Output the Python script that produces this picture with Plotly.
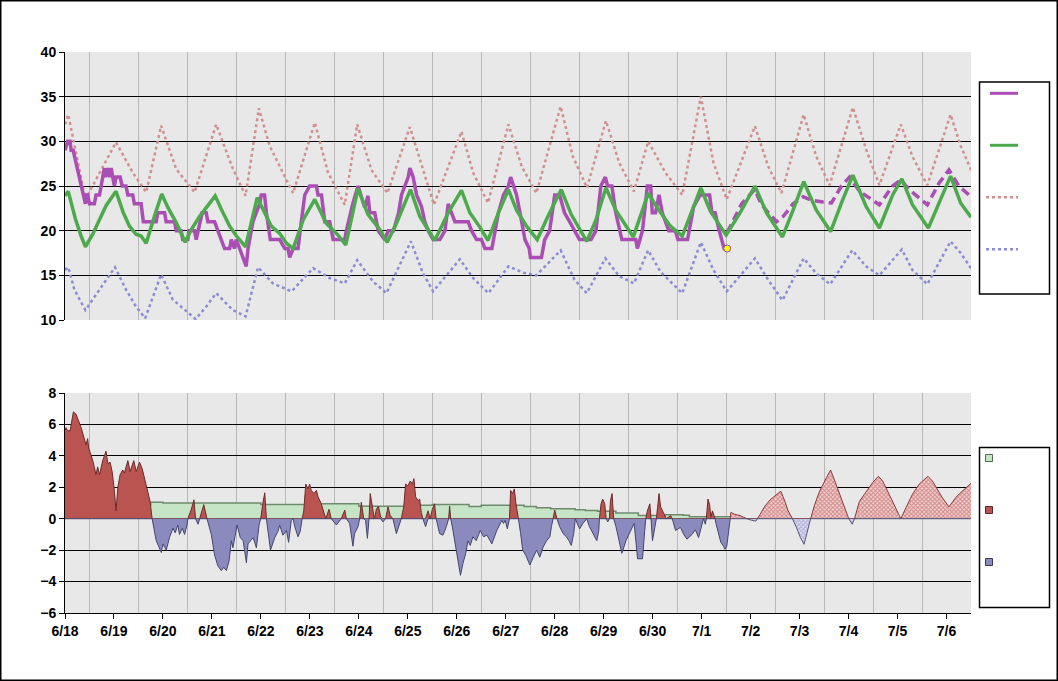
import plotly.graph_objects as go
from plotly.subplots import make_subplots

# ---------------- data (x in hours from 6/18 00:00) ----------------
day_labels = ["6/18", "6/19", "6/20", "6/21", "6/22", "6/23", "6/24", "6/25", "6/26",
              "6/27", "6/28", "6/29", "6/30", "7/1", "7/2", "7/3", "7/4", "7/5", "7/6"]

obs_t = [0, 1.3, 2.5, 3, 4, 7, 8.7, 10, 10.6, 11.1, 12, 14.4, 15.2, 16.9, 17.7, 19.3, 19.8, 20.9, 21.8, 22.6,
         24.2, 25, 27, 28, 29.9, 30.8, 33.2, 34, 37.3, 38.4, 44.7, 45.5, 48.8, 49.6, 53.7, 54.5, 56.9, 57.7,
         60.2, 60.7, 63.5, 64.3, 67.2, 69.2, 70, 73.3, 74.9, 76.6, 78.2, 80.7, 81.5, 83.1, 83.9, 85.6, 87.2,
         88.8, 89.7, 92.1, 93.7, 95.4, 96.2, 97.8, 98.7, 100.6, 105.2, 107.7, 109.3, 110.1, 111.8, 114.2,
         115.8, 117.5, 119.9, 123.2, 124, 125.7, 127.3, 129.7, 131.4, 137.1, 137.9, 141, 143.6, 146.9, 148.5,
         149.4, 151.8, 153.5, 156.7, 158.4, 161, 163.5, 164.9, 168.2, 169, 170.6, 172.3, 174.7, 176.3, 178,
         180.4, 183.7, 186.2, 187.8, 189.4, 191.1, 197.6, 199.2, 201.7, 204.1, 205.8, 209.2, 210.8, 212.4,
         214.9, 217.3, 218.4, 219.7, 221.3, 223.8, 225.4, 227.5, 228.1, 233.5, 235.1, 237.5, 240, 242.4,
         244.8, 247.3, 249.7, 252.1, 257.8, 260.2, 262.6, 264.8, 265.9, 268, 269.9, 272.9, 279.7, 280.5,
         283, 285.4, 287, 287.8, 289.4, 291.1, 292.7, 294.3, 295.9, 299.1, 300.4, 305.1, 308.1, 311.3,
         315.9, 317, 318.6, 320.3, 321.9, 323, 324.5]
obs_v = [29, 30, 30, 29, 29, 26, 24.3, 23, 24, 24, 23, 23, 24, 24, 25, 27, 26, 27, 26, 27,
         25, 26, 26, 25, 25, 24, 24, 23, 23, 21, 21, 22, 22, 21, 21, 20, 20, 19,
         19, 20, 20, 19, 22, 22, 21, 21, 20, 19, 18, 18, 19, 18, 19, 18, 17,
         16, 18, 21, 22, 23, 24, 24, 22, 19, 19, 18, 18, 17, 18, 18,
         21, 24, 25, 25, 24, 24, 21, 21, 19, 19, 20, 23, 25, 22.6, 23.9,
         22, 22, 20, 19, 20, 20, 22, 24, 26, 27, 26, 24, 22.7, 21, 20,
         19, 19, 20, 23, 22, 21, 21, 20, 19, 19, 18, 18, 20, 22,
         24, 25, 26, 25, 24, 21, 19, 18, 17, 17, 19, 20, 24, 24,
         22, 21, 20, 19, 19, 20, 25, 26, 25, 25, 22, 19, 19, 18,
         20, 25, 25, 22, 22, 24, 22, 21, 20, 20, 19, 19, 22.7, 24,
         24, 22, 22, 20.3, 19, 18, 18]

last_obs_t = [324.5]
last_obs_v = [18]

fcst_t = [324.5, 331.6, 338, 341.4, 345.5, 348.7, 352, 356.8, 361.7, 365.8, 371.5, 375.6, 380.5, 384.5,
          389.4, 395.1, 399.1, 405.6, 409.6, 413.7, 418.6, 422.6, 428.3, 433.2, 438, 444]
fcst_v = [19.8, 23, 24.6, 22.9, 21.8, 21, 21.6, 23, 23.8, 23.4, 23.2, 23.1, 25, 26,
          24.4, 23.5, 22.9, 25, 25.7, 24.6, 23.6, 22.9, 25.3, 26.8, 25, 23.8]

model_t = [0, 1.6, 3.4, 5.1, 7.9, 10, 13.6, 16.9, 20.1, 25, 28.6, 31.6, 34.8, 37.3, 39.8, 43.8, 47.4, 50.4,
           54.5, 58.9, 61.8, 66, 73.6, 76.6, 80.7, 84, 88.5, 94.2, 97, 101.1, 105.2, 108.5, 111.8, 116.7,
           122.4, 128.1, 133.8, 137.6, 143.6, 148.5, 154.3, 157.9, 162.4, 169.3, 173.9, 178, 181.2, 187.8,
           194.3, 198.4, 203.3, 207.3, 212.4, 217.3, 221.3, 226.2, 231.4, 237.5, 243.2, 248.1, 252.1,
           255.7, 260.2, 265.1, 269.9, 274.8, 278.5, 283, 285.8, 291, 296.7, 302.5, 308.1, 311.6, 316.2,
           324, 330.8, 338.1, 343.8, 351.6, 356.8, 362, 368.2, 375.2, 381.2, 386.1, 392.6, 399.1, 405.6,
           410.1, 415.3, 423.1, 429.1, 434, 438.9, 444]
model_v = [23.9, 24.4, 22.8, 21.3, 19.4, 18.2, 19.6, 21.3, 22.8, 24.4, 22, 20.5, 19.6, 19.4, 18.6, 21.6, 24.1, 22.6,
           20.9, 18.7, 20.1, 21.6, 23.9, 22.4, 20.5, 19.4, 18.2, 23.7, 22.4, 20.5, 19.7, 18.6, 18, 21.2,
           23.5, 20.8, 19.5, 18.4, 24.7, 21.8, 20.1, 18.7, 20.8, 24.6, 21.6, 20.1, 18.9, 22,
           24.5, 22, 20.4, 18.9, 22, 24.6, 22.3, 20.5, 19, 22, 24.6, 21.8, 20.3,
           18.8, 21.2, 24.8, 22.3, 20.5, 19.3, 22.3, 24.2, 22.3, 20.5, 19.4, 22.7, 24.8, 22.2,
           19.5, 22, 25, 22, 19.3, 22.3, 25.5, 22.3, 19.9, 23.5, 26.2, 22.7, 20.3, 24,
           25.8, 22.9, 20.3, 23.5, 26.1, 23.1, 21.5]

hi_t = [0, 1.6, 10, 25, 33.2, 39.8, 47.1, 54.5, 63.5, 74.1, 82.3, 88.5, 95, 100.3, 107.6, 111.8, 122.4,
        128.9, 137.1, 143.2, 150.2, 158, 169, 173.9, 180.8, 194.3, 200, 207.3, 217.3, 223.8, 231, 242.9,
        248.9, 255.8, 265.1, 271.6, 278.8, 285.8, 294.2, 302.5, 311.6, 317.8, 324.3, 338.1, 344.6, 351.1,
        362, 368.2, 374.7, 386.1, 392.6, 399.1, 409.6, 415.3, 422.6, 434, 438.9, 444]
hi_v = [31.9, 33, 23.5, 29.9, 26.5, 24.3, 31.75, 26.9, 24.3, 31.9, 26.9, 23.9, 33.7, 29.5, 26.1, 24.2, 32.1,
        26.5, 22.9, 31.9, 26.8, 24.2, 31.6, 28, 22.9, 31.1, 26.5, 23.1, 31.9, 27.2, 24.2, 33.9,
        28.3, 24.8, 32.3, 27.6, 24.4, 30, 26.5, 24, 35, 27.6, 23.5, 31.7, 27.2, 24.2,
        33, 28.3, 25.1, 33.8, 29.1, 25.1, 31.9, 28.3, 25.1, 33, 29.5, 26.8]

lo_t = [0, 1.6, 4.6, 10, 16.9, 24.5, 29.9, 34.8, 39.3, 47.1, 52.8, 64, 69.2, 74.1, 82.3, 88.5, 94.6, 101.9,
        111, 121.6, 129.7, 137.1, 143.2, 151, 157.5, 169.5, 175.5, 180.4, 193.5, 200, 207.5, 217.3, 224.6,
        231, 242.9, 249.7, 255.7, 264.8, 271.6, 278.8, 285.8, 291.8, 302.5, 311.6, 317.8, 324.3, 338.1,
        344.6, 351.6, 362, 368.2, 375, 385.8, 392.6, 399.1, 410.1, 415.3, 422.6, 434, 438.9, 444]
lo_v = [15.6, 15.9, 13.4, 11.1, 13.4, 15.9, 13.4, 11.5, 10.2, 15.1, 12.3, 10.1, 11.5, 13, 11.1, 10.4, 15.9, 14.1,
        13.2, 15.8, 14.7, 14.1, 16.7, 14.3, 13, 18.8, 15.2, 13.2, 16.8, 14.7, 13, 16, 15.3,
        15, 17.8, 14.5, 13, 16.9, 14.9, 14.1, 17.8, 15.4, 13, 18.7, 15.6, 13.2, 16.9,
        14.5, 12.2, 16.9, 15.2, 14, 17.8, 16, 15, 17.9, 15.6, 14, 18.8, 17.5, 15.8]

# observed departure (bottom panel)
dep_t = [0, 0.5, 1.3, 2.5, 4.1, 5.4, 7.9, 10.3, 11.1, 11.6, 13.6, 15.2, 16.0, 16.9, 18.5, 20.1, 21.0, 22.1, 23.1,
         24.2, 25.0, 25.9, 27.0, 28.3, 29.1, 30.8, 31.9, 33.7, 34.9, 36.5, 37.8, 39.0, 40.6, 41.7, 42.7,
         44.7, 46.0, 47.2, 48.0, 49.6, 51.2, 52.9, 54.0, 55.3, 56.1, 57.5, 58.6, 59.8, 60.2, 61.9, 63.2,
         64.0, 65.2, 66.0, 68.0, 69.6, 71.7, 73.3, 74.9, 76.6, 77.8, 79.1, 80.4, 81.5, 82.3, 84.3, 85.9,
         87.3, 88.9, 89.7, 90.9, 92.2, 93.8, 95.1, 95.9, 97.1, 97.9, 98.7, 100.7, 102.8, 104.4, 105.2,
         106.8, 108.5, 109.6, 110.9, 111.8, 112.6, 114.2, 115.3, 116.2, 117.0, 118.0, 119.1, 119.9, 120.7,
         122.0, 123.2, 124.0, 125.6, 126.9, 127.8, 129.4, 130.5, 133.0, 135.4, 137.1, 137.9, 139.5, 141.1,
         141.9, 143.6, 144.4, 145.2, 146.4, 147.3, 148.2, 149.0, 149.6, 150.6, 151.6, 152.6, 153.6, 154.7,
         155.8, 157.1, 158.3, 159.4, 160.7, 162.4, 163.7, 164.8, 166.0, 166.9, 168.1, 169.2, 170.2, 171.0,
         171.8, 173.0, 173.8, 174.6, 175.4, 176.7, 177.9, 179.0, 180.0, 181.1, 181.9, 183.6, 185.2, 186.9,
         188.0, 188.5, 189.0, 189.8, 190.9, 192.6, 193.8, 195.0, 196.4, 197.5, 198.6, 199.9, 201.5, 203.5,
         205.1, 206.8, 209.2, 211.6, 214.1, 214.9, 215.7, 216.8, 217.8, 218.4, 219.4, 220.2, 221.0, 222.2,
         223.3, 224.3, 225.9, 227.8, 229.5, 231.1, 232.7, 234.3, 236.0, 237.6, 238.4, 239.2, 240.0, 241.1,
         242.4, 244.1, 245.7, 247.0, 248.1, 249.3, 250.1, 252.2, 253.8, 255.7, 257.0, 259.5, 260.6, 261.6,
         261.9, 262.7, 263.5, 264.5, 265.2, 266.0, 266.8, 267.3, 268.1, 268.9, 270.0, 271.6, 272.9, 274.9,
         277.3, 278.9, 280.6, 283.0, 284.1, 284.6, 285.4, 286.6, 287.2, 287.9, 289.0, 289.8, 290.6, 291.1,
         291.9, 292.7, 293.5, 294.7, 296.8, 297.6, 299.2, 301.6, 303.2, 304.8, 307.3, 308.9, 310.5, 312.1,
         312.9, 313.8, 314.3, 315.1, 315.9, 316.5, 317.3, 318.2, 318.6, 319.1, 320.3, 321.4, 322.7, 323.5,
         324.3, 325.1, 326.0]
dep_v = [5.6, 5.8, 5.6, 5.6, 6.8, 6.65, 5.8, 4.7, 5.1, 4.5, 3.7, 2.8, 3.3, 2.8, 3.7, 4.3, 3.5, 3.6, 3.0,
         1.8, 0.5, 2.0, 2.8, 3.1, 2.9, 3.7, 3.0, 3.7, 3.0, 3.6, 3.2, 2.6, 1.8, 1.1, 0,
         -1.4, -1.85, -2.15, -1.6, -2.0, -1.2, -0.6, -0.9, -0.4, -1.0, -0.6, -1.0, -0.4, 0, 0.6, 1.2,
         0, -0.35, 0, 0.9, 0, -1.0, -2.3, -3.0, -3.3, -3.1, -3.3, -2.7, -1.4, -1.85, -0.4, -1.2,
         -1.4, -2.8, -1.6, -1.4, -1.2, -1.85, -0.4, 0, 1.1, 1.65, 0, -2.0, -1.2, -0.8, -0.4,
         -1.05, -0.75, -1.5, -0.1, 0, -0.5, -1.15, -0.8, 0, 0.5, 2.2, 1.9, 2.2, 1.8,
         1.6, 1.8, 1.4, 0.95, 0.3, 0, 0.6, 0, -0.4, 0, 0.55, 0, -0.3, -1.75,
         -0.95, -0.5, 0, 1.05, 0, -0.1, -1.25, 0, 1.6, 0.75, 0, 0.6, 0.8, 0.1,
         -0.2, 0, 0.75, 0.2, 0, -0.95, -0.4, 0, 0.75, 2.2, 2.1, 2.4, 2.2, 2.55,
         1.4, 1.15, 1.25, 0.4, 0, -0.5, 0.5, 0, 0.6, 0.95, 0, -0.95, -1.05, -0.5,
         0, 0.8, 0, -0.5, -1.4, -2.65, -3.6, -2.85, -2.2, -1.4, -1.7, -1.15, -1.4, -0.75,
         -1.15, -1.05, -1.6, -0.75, -0.1, -0.3, -0.1, -0.65, 0, 1.8, 1.6, 1.9, 0.95, 0,
         -0.95, -2.0, -2.35, -2.95, -2.45, -2.0, -2.45, -1.8, -1.4, -1.15, -0.5, 0, 0.55, 0,
         -0.5, -0.95, -1.15, -1.4, -1.7, -0.95, 0, -0.65, -0.3, 0, -0.5, -1.15, -1.4, -0.75,
         0, 0.95, 1.25, 0.95, 0, -0.2, 0, 1.15, 1.6, 0, -0.5, -1.4, -2.2, -1.4,
         -0.75, -0.3, -2.55, -2.55, -0.75, 0, 0.5, 0.95, 0, -1.4, -0.6, 0, 0.95, 1.6,
         0.75, 0.55, 0.3, 0, 0.2, 0, -0.75, -0.55, -1.0, -1.3, -1.0, -0.7, -1.2, -0.35,
         0, -0.35, 0, 1.25, 0.9, 0.1, 0.5, 0.15, 0, -0.35, -1.0, -1.5, -1.75, -1.95,
         -1.75, -1.0, 0]

# forecast departure (bottom panel, hatched)
fdep_t = [326.0, 326.3, 328.4, 330.8, 334.1, 336.5, 338.6, 339.3, 340.6, 343.0, 345.5, 348.7, 350.8, 352.8,
          354.4, 356.5, 358.5, 360.4, 362.2, 364.1, 365.4, 367.4, 369.8, 373.1, 375.2, 376.7, 379.6, 382.0,
          384.1, 385.8, 386.9, 389.3, 392.6, 395.8, 398.6, 400.7, 403.9, 407.2, 409.6, 412.1, 415.3, 418.6,
          422.9, 425.1, 429.9, 433.2, 436.5, 439.7, 444.0]
fdep_v = [0, 0.4, 0.27, 0.2, 0, -0.1, -0.15, 0, 0.27, 0.8, 1.2, 1.55, 1.75, 1.1,
          0.5, 0, -0.57, -1.2, -1.63, -0.57, 0, 0.9, 1.75, 2.6, 3.1, 2.6, 1.55, 0.7,
          0, -0.35, 0, 1.1, 1.75, 2.3, 2.7, 2.4, 1.55, 0.6, 0, 0.7, 1.55, 2.2,
          2.7, 2.4, 1.35, 0.75, 1.35, 1.75, 2.25]

# mean-error band (bottom panel, green)
band_t = [0, 20, 42, 48, 96, 108, 118, 144, 168, 180, 198, 204, 225, 231, 238, 250, 255, 261, 270, 281, 294,
          303, 306, 326]
band_v = [0.72, 0.85, 1.05, 1.0, 0.9, 0.9, 0.95, 0.8, 0.85, 0.9, 0.78, 0.85, 0.78, 0.7, 0.63, 0.57, 0.53,
          0.47, 0.36, 0.21, 0.25, 0.22, 0.13, 0.12]

# ---------------- figure ----------------
W, H = 1058, 681
L, R, T, B = 65, 971, 52, 613          # plot-area edges in pixels
PURPLE = "#AA4DB4"
GREEN = "#4CAA4C"
HI = "#D09090"
LO = "#8C8CD6"
RED = "#BA5451"
BLUE = "#8A8ABF"
BAND = "#C6E5C6"

fig = make_subplots(rows=2, cols=1)

# top panel
fig.add_trace(go.Scatter(x=hi_t, y=hi_v, mode="lines", line=dict(color=HI, width=2.5, dash="dot")), 1, 1)
fig.add_trace(go.Scatter(x=lo_t, y=lo_v, mode="lines", line=dict(color=LO, width=2.5, dash="dot")), 1, 1)
fig.add_trace(go.Scatter(x=obs_t, y=obs_v, mode="lines", line=dict(color=PURPLE, width=3.5)), 1, 1)
fig.add_trace(go.Scatter(x=fcst_t, y=fcst_v, mode="lines", line=dict(color=PURPLE, width=3.5, dash="9px,5px")), 1, 1)
fig.add_trace(go.Scatter(x=model_t, y=model_v, mode="lines", line=dict(color=GREEN, width=3.5)), 1, 1)
fig.add_trace(go.Scatter(x=last_obs_t, y=last_obs_v, mode="markers",
                         marker=dict(color="#FFFF00", size=7, line=dict(color="#9A4A9A", width=1))), 1, 1)

# bottom panel
fig.add_trace(go.Scatter(x=band_t, y=band_v, mode="lines", fill="tozeroy", fillcolor=BAND,
                         line=dict(color="#6E8A6E", width=1.5, shape="hv")), 2, 1)
fig.add_trace(go.Scatter(x=dep_t, y=[max(v, 0) for v in dep_v], mode="lines", fill="tozeroy",
                         fillcolor=RED, line=dict(color="#6E2A2A", width=1)), 2, 1)
fig.add_trace(go.Scatter(x=dep_t, y=[min(v, 0) for v in dep_v], mode="lines", fill="tozeroy",
                         fillcolor=BLUE, line=dict(color="#45456E", width=1)), 2, 1)
fig.add_trace(go.Scatter(x=fdep_t, y=[max(v, 0) for v in fdep_v], mode="lines", fill="tozeroy",
                         fillcolor="#EBC4C4",
                         fillpattern=dict(shape="x", fgcolor="#B84444", bgcolor="#F2D6D6", size=3, solidity=0.6),
                         line=dict(color="#8A3A3A", width=1)), 2, 1)
fig.add_trace(go.Scatter(x=fdep_t, y=[min(v, 0) for v in fdep_v], mode="lines", fill="tozeroy",
                         fillcolor="#D6D6EE",
                         fillpattern=dict(shape="x", fgcolor="#7E7EC0", bgcolor="#E4E4F4", size=3, solidity=0.6),
                         line=dict(color="#55557E", width=1)), 2, 1)

FONT = dict(family="Liberation Sans, Arial, sans-serif", size=14, color="black", weight="bold")
x_major = [24 * i for i in range(len(day_labels))]
x_minor = [24 * i + 12 for i in range(len(day_labels))]

common_x = dict(range=[0, 444], domain=[0, 1], showgrid=False, zeroline=False, automargin=False,
                minor=dict(tickmode="array", tickvals=x_minor, showgrid=True, gridcolor="#B8B8B8", gridwidth=1, ticks=""),
                tickfont=FONT)
common_y = dict(showgrid=True, gridcolor="black", gridwidth=1, zeroline=False, ticks="outside", ticklen=5,
                tickcolor="black", showline=True, linecolor="black", tickfont=FONT, automargin=False)
PH = B - T
fig.update_layout(
    xaxis=dict(**common_x, showticklabels=False, ticks="", tickvals=x_major, showline=False),
    xaxis2=dict(**common_x, tickmode="array", tickvals=x_major, ticktext=day_labels, ticks="outside",
                ticklen=5, tickcolor="black", showline=True, linecolor="black", linewidth=1),
    yaxis=dict(**common_y, range=[10, 40], domain=[(B - 320) / PH, 1], tickvals=[10, 15, 20, 25, 30, 35, 40]),
    yaxis2=dict(**common_y, range=[-6, 8], domain=[0, (B - 393) / PH], tickvals=[-6, -4, -2, 0, 2, 4, 6, 8]),
    width=W, height=H, margin=dict(l=L, r=W - R, t=T, b=H - B, autoexpand=False),
    paper_bgcolor="white", plot_bgcolor="#E8E8E8", showlegend=False,
)

# frame and legend boxes (decorations), positions given in pixels and mapped to paper
def px(x):
    return (x - L) / (R - L)

def py(y):
    return (B - y) / (B - T)

shapes = [
    dict(type="rect", xref="paper", yref="paper", x0=px(0.75), x1=px(1057.25), y0=py(680.25), y1=py(0.75),
         line=dict(color="black", width=1.5)),
    dict(type="rect", xref="paper", yref="paper", x0=px(979.5), x1=px(1049.5), y0=py(294), y1=py(82),
         line=dict(color="black", width=1.5), fillcolor="white"),
    dict(type="rect", xref="paper", yref="paper", x0=px(979.5), x1=px(1049.5), y0=py(607.5), y1=py(447.5),
         line=dict(color="black", width=1.5), fillcolor="white"),
    dict(type="line", xref="paper", yref="paper", x0=px(990), x1=px(1018), y0=py(93.3), y1=py(93.3),
         line=dict(color=PURPLE, width=3)),
    dict(type="line", xref="paper", yref="paper", x0=px(990), x1=px(1018), y0=py(145.3), y1=py(145.3),
         line=dict(color=GREEN, width=3)),
    dict(type="line", xref="paper", yref="paper", x0=px(986), x1=px(1018), y0=py(197.3), y1=py(197.3),
         line=dict(color=HI, width=2.5, dash="dot")),
    dict(type="line", xref="paper", yref="paper", x0=px(986), x1=px(1018), y0=py(249.3), y1=py(249.3),
         line=dict(color=LO, width=2.5, dash="dot")),
    dict(type="rect", xref="paper", yref="paper", x0=px(985.5), x1=px(992.5), y0=py(461.5), y1=py(454.5),
         line=dict(color="#556655", width=1), fillcolor=BAND),
    dict(type="rect", xref="paper", yref="paper", x0=px(985.5), x1=px(992.5), y0=py(513.5), y1=py(506.5),
         line=dict(color="#5A2A2A", width=1), fillcolor=RED),
    dict(type="rect", xref="paper", yref="paper", x0=px(985.5), x1=px(992.5), y0=py(565.5), y1=py(558.5),
         line=dict(color="#3A3A5A", width=1), fillcolor=BLUE),
]
fig.update_layout(shapes=shapes)

fig.write_html("out.html", config={"displayModeBar": False},
               post_script="document.body.style.margin='0px';document.body.style.overflow='hidden';")
